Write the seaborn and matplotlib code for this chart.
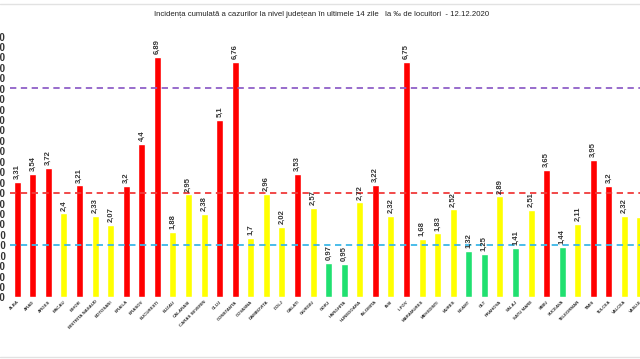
"""Cumulative 14-day incidence per county (per 1000 inhabitants), 12.12.2020."""

import matplotlib

matplotlib.use("Agg")

import matplotlib.pyplot as plt
import numpy as np
import pandas as pd
import seaborn as sns
from matplotlib.lines import Line2D

COUNTIES = [
    "ALBA", "ARAD", "ARGES", "BACAU", "BIHOR", "BISTRITA NASAUD", "BOTOSANI",
    "BRAILA", "BRASOV", "BUCURESTI", "BUZAU", "CALARASI", "CARAS SEVERIN",
    "CLUJ", "CONSTANTA", "COVASNA", "DAMBOVITA", "DOLJ", "GALATI", "GIURGIU",
    "GORJ", "HARGHITA", "HUNEDOARA", "IALOMITA", "IASI", "ILFOV", "MARAMURES",
    "MEHEDINTI", "MURES", "NEAMT", "OLT", "PRAHOVA", "SALAJ", "SATU MARE",
    "SIBIU", "SUCEAVA", "TELEORMAN", "TIMIS", "TULCEA", "VALCEA", "VASLUI",
]
INCIDENCE = [
    3.31, 3.54, 3.72, 2.4, 3.21, 2.33, 2.07,
    3.2, 4.4, 6.89, 1.88, 2.95, 2.38,
    5.1, 6.76, 1.7, 2.96, 2.02, 3.53, 2.57,
    0.97, 0.95, 2.72, 3.22, 2.32, 6.75, 1.68,
    1.83, 2.52, 1.32, 1.25, 2.89, 1.41, 2.51,
    3.65, 1.44, 2.11, 3.95, 3.2, 2.32, 2.3,
]
THRESHOLDS = [1.5, 3.0, 6.0]
THRESHOLD_COLORS = ["#3cb8e8", "#f03a3a", "#9060c8"]
TITLE = ("Incidența cumulată a cazurilor la nivel județean în ultimele 14 zile"
         "   la ‰ de locuitori  - 12.12.2020")

RED, YELLOW, GREEN = "#ff0000", "#ffff00", "#20e070"


def bar_colour(v: float) -> str:
    if v > 3.0:
        return RED
    if v > 1.5:
        return YELLOW
    return GREEN


sns.set_theme(style="white")
plt.rcParams["font.family"] = ["Liberation Sans", "DejaVu Sans"]

df = pd.DataFrame({"county": COUNTIES, "value": INCIDENCE})
palette = {c: bar_colour(v) for c, v in zip(COUNTIES, INCIDENCE)}

fig = plt.figure(figsize=(6.4, 3.59), dpi=100)
W, H = 640, 359
# axes placed in pixel terms: x=10..640, value 0 at y=297, 7.5 at y=36
ax = fig.add_axes([10 / W, (H - 297) / H, 630 / W, (297 - 36) / H])

sns.barplot(data=df, x="county", y="value", hue="county", palette=palette,
            width=0.45, legend=False, ax=ax, saturation=1)

for thr, col in zip(THRESHOLDS, THRESHOLD_COLORS):
    ax.axhline(thr, color=col, linestyle=(0, (3.5, 2.5)), linewidth=1.3, zorder=3)

XMAX = 39.79
for i, v in enumerate(INCIDENCE):
    if i > XMAX - 0.3:
        continue  # the last county sits past the cropped right edge
    ax.text(i, v + 0.08, f"{v:g}".replace(".", ","), rotation=90,
            ha="center", va="bottom", fontsize=5.5, fontweight="bold",
            color="#333333")

ax.set_xlim(-0.466, XMAX)
ax.set_ylim(0, 7.5)
yt = np.arange(0, 7.51, 0.3)
ax.set_yticks(yt)
ax.set_yticklabels([f"{t:.2f}".replace(".", ",") for t in yt], fontsize=7,
                   fontweight="bold", color="#333333")
ax.set_xticks(range(len(COUNTIES)))
ax.set_xticklabels(COUNTIES, rotation=45, ha="right", rotation_mode="anchor",
                   fontsize=3.2, fontweight="bold", color="#333333")
ax.tick_params(axis="y", length=0, pad=3)
ax.tick_params(axis="x", length=0, pad=2)
ax.set_xlabel("")
ax.set_ylabel("")
sns.despine(ax=ax, left=True, bottom=True)

fig.text(322 / W, 1 - 15 / H, TITLE, ha="center", va="center", fontsize=5.6,
         color="#222222")

for yy in (3.5, 356.5):
    fig.add_artist(Line2D([0, 1], [1 - yy / H] * 2, color="#e2e2e2", linewidth=1))

fig.savefig("out.png", dpi=100)
